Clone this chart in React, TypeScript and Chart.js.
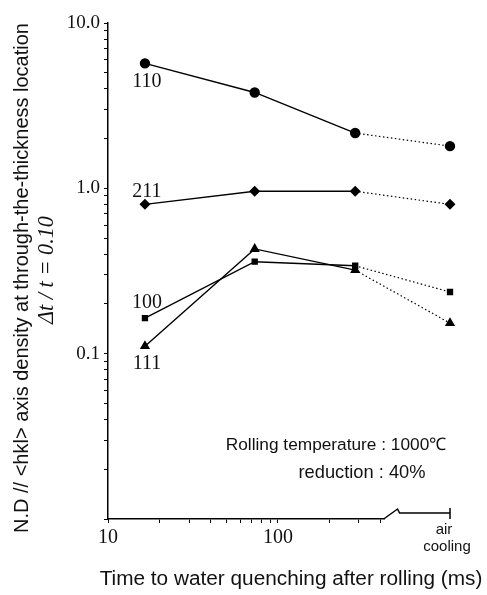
import React, { useEffect, useRef } from 'react';
import { Chart, registerables } from 'chart.js';

Chart.register(...registerables);

// ---- data ----
const timesMs = [16.5, 73, 285];
const AIR_COOLING = 1030; // axis value standing for "air cooling" (beyond the axis break)
const xPositions = [...timesMs, AIR_COOLING];

const nd110 = [5.7, 3.8, 2.16, 1.8];
const nd211 = [0.8, 0.96, 0.96, 0.8];
const nd100 = [0.164, 0.36, 0.34, 0.236];
const nd111 = [0.111, 0.43, 0.32, 0.153];
const seriesNames = ['110', '211', '100', '111'];

const yTickValues = [
  0.01, 0.02, 0.03, 0.04, 0.05, 0.06, 0.07, 0.08, 0.09,
  0.1, 0.2, 0.3, 0.4, 0.5, 0.6, 0.7, 0.8, 0.9,
  1, 2, 3, 4, 5, 6, 7, 8, 9, 10,
];
const yTickLabels: Record<string, string> = { '0.1': '0.1', '1': '1.0', '10': '10.0' };

const xTickValues = [10, 20, 30, 40, 50, 60, 70, 80, 90, 100, 200, 300, 400, AIR_COOLING];
const xTickLabels: Record<string, string> = { '10': '10', '100': '100' };
const airCoolingLabel = ['air', 'cooling'];

const xTitle = 'Time to water quenching after rolling (ms)';
const yTitleLine1 = 'N.D // <hkl> axis density at through-the-thickness location';
const yTitleLine2 = 'Δt / t = 0.10';
const conditionLines = ['Rolling temperature : 1000℃', 'reduction : 40%'];

function fitText(
  ctx: CanvasRenderingContext2D,
  text: string,
  cx: number,
  cy: number,
  width: number,
  family: string,
  style = ''
) {
  ctx.font = `${style} 20px ${family}`;
  const w = ctx.measureText(text).width;
  const size = (20 * width) / w;
  ctx.font = `${style} ${size}px ${family}`;
  ctx.fillText(text, cx, cy);
}

const decorPlugin = {
  id: 'decor',
  afterDatasetsDraw(chart: any) {
    const ctx: CanvasRenderingContext2D = chart.ctx;
    ctx.save();
    ctx.fillStyle = '#111';
    ctx.textAlign = 'center';
    ctx.textBaseline = 'middle';
    // series labels next to first points
    const offsets = [18, -13, -15, 18];
    chart.data.datasets.forEach((ds: any, i: number) => {
      const p = chart.getDatasetMeta(i).data[0];
      ctx.font = '20px "Liberation Serif"';
      ctx.fillText(seriesNames[i], p.x + 2, p.y + offsets[i]);
    });
    ctx.restore();
  },
  afterDraw(chart: any) {
    const ctx: CanvasRenderingContext2D = chart.ctx;
    const xs = chart.scales.x;
    const area = chart.chartArea;
    ctx.save();
    ctx.textAlign = 'center';
    ctx.textBaseline = 'middle';

    // axis break
    const bx0 = xs.getPixelForValue(425);
    const bx1 = xs.getPixelForValue(520);
    const xr = xs.getPixelForValue(AIR_COOLING);
    const yb = area.bottom;
    ctx.fillStyle = '#fff';
    ctx.fillRect(bx0, yb - 3, xr - bx0 + 4, 10);
    ctx.strokeStyle = '#000';
    ctx.lineWidth = 1.5;
    ctx.beginPath();
    ctx.moveTo(bx0 - 1, yb);
    ctx.lineTo(bx1 - 2, yb - 10);
    ctx.lineTo(bx1, yb - 6);
    ctx.lineTo(xr, yb - 6);
    ctx.stroke();
    ctx.beginPath();
    ctx.moveTo(xr, yb - 11);
    ctx.lineTo(xr, yb);
    ctx.stroke();

    ctx.fillStyle = '#111';
    // "air cooling" tick label
    ctx.font = '15px "Liberation Sans"';
    ctx.fillText(airCoolingLabel[0], xr - 6, yb + 11);
    ctx.fillText(airCoolingLabel[1], xr - 3, yb + 28);

    // x title
    fitText(ctx, xTitle, 291, 579, 383, '"Liberation Sans"');

    // y title (rotated)
    ctx.save();
    ctx.translate(22, 278);
    ctx.rotate(-Math.PI / 2);
    fitText(ctx, yTitleLine1, 0, 0, 510, '"Liberation Sans"');
    ctx.restore();
    ctx.save();
    ctx.translate(47, 270);
    ctx.rotate(-Math.PI / 2);
    fitText(ctx, yTitleLine2, 0, 0, 108, '"Liberation Serif"', 'italic');
    ctx.restore();

    // conditions
    fitText(ctx, conditionLines[0], 336, 445, 221, '"Liberation Sans"');
    fitText(ctx, conditionLines[1], 362, 473, 127, '"Liberation Sans"');
    ctx.restore();
  },
};

const seriesData = [nd110, nd211, nd100, nd111];
const pointStyles = ['circle', 'rectRot', 'rect', 'triangle'];
const pointRadii = [4.5, 4.5, 3.5, 4.5];

export default function App() {
  const ref = useRef<HTMLCanvasElement | null>(null);
  useEffect(() => {
    if (!ref.current) return;
    const chart = new Chart(ref.current, {
      type: 'line',
      data: {
        datasets: seriesData.map((vals, i) => ({
          label: seriesNames[i],
          data: xPositions.map((x, j) => ({ x, y: vals[j] })),
          clip: false,
          borderColor: '#000',
          backgroundColor: '#000',
          borderWidth: 1.4,
          pointStyle: pointStyles[i] as any,
          pointRadius: pointRadii[i],
          pointBackgroundColor: '#000',
          pointBorderColor: '#000',
          segment: {
            borderDash: (c: any) => (c.p1DataIndex === 3 ? [1.5, 2.5] : undefined),
            borderWidth: (c: any) => (c.p1DataIndex === 3 ? 1.2 : 1.4),
          },
        })),
      },
      options: {
        animation: false,
        responsive: false,
        devicePixelRatio: 1,
        layout: { padding: { top: 23, right: 37, bottom: 0, left: 0 } },
        plugins: { legend: { display: false }, tooltip: { enabled: false } },
        scales: {
          x: {
            type: 'logarithmic',
            min: 10,
            max: AIR_COOLING,
            afterFit: (s: any) => { s.height = 76; },
            afterBuildTicks: (s: any) => { s.ticks = xTickValues.map((v) => ({ value: v })); },
            ticks: {
              autoSkip: false,
              maxRotation: 0,
              padding: 3,
              color: '#111',
              font: { family: '"Liberation Serif"', size: 20 },
              callback: (v: any) => xTickLabels[String(v)] ?? '',
            },
            grid: { drawOnChartArea: false, tickLength: 4, color: '#000', lineWidth: 1 },
            border: { color: '#000', width: 1.5 },
          },
          y: {
            type: 'logarithmic',
            min: 0.01,
            max: 10,
            afterFit: (s: any) => { s.width = 108; },
            afterBuildTicks: (s: any) => { s.ticks = yTickValues.map((v) => ({ value: v })); },
            ticks: {
              autoSkip: false,
              padding: 4,
              color: '#111',
              font: { family: '"Liberation Serif"', size: 19 },
              callback: (v: any) => yTickLabels[String(v)] ?? '',
            },
            grid: { drawOnChartArea: false, tickLength: 4, color: '#000', lineWidth: 1 },
            border: { color: '#000', width: 1.5 },
          },
        },
      },
      plugins: [decorPlugin],
    } as any);
    return () => chart.destroy();
  }, []);
  return (
    <canvas
      ref={ref}
      width={487}
      height={595}
      style={{ position: 'fixed', left: 0, top: 0, width: 487, height: 595 }}
    />
  );
}
